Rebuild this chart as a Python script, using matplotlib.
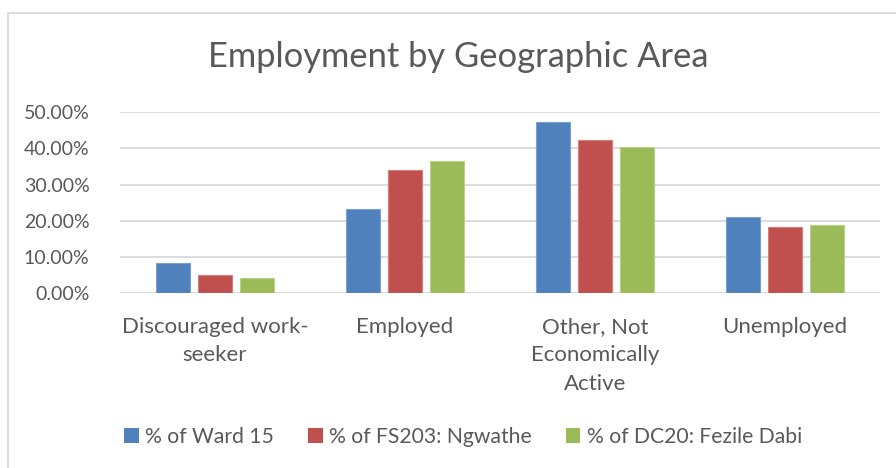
import numpy as np
import matplotlib
matplotlib.use("Agg")
from matplotlib import pyplot as plt
from matplotlib.ticker import FuncFormatter
from matplotlib.lines import Line2D
from matplotlib.patches import Patch

# employment status shares for the three geographic levels
categories = ["Discouraged work-\nseeker", "Employed",
              "Other, Not\nEconomically\nActive", "Unemployed"]
ward_15 = [0.083, 0.232, 0.472, 0.211]
fs203_ngwathe = [0.051, 0.341, 0.423, 0.184]
dc20_fezile_dabi = [0.041, 0.366, 0.403, 0.187]
series_names = ["% of Ward 15", "% of FS203: Ngwathe", "% of DC20: Fezile Dabi"]
y_ticks = [0.0, 0.1, 0.2, 0.3, 0.4, 0.5]

colors = ["#4F81BD", "#C0504D", "#9BBB59"]
edges = ["#7BA0D0", "#D77E7B", "#B8D088"]
text_color = "#595959"

plt.rcParams["font.family"] = ["Lato", "DejaVu Sans"]

fig = plt.figure(figsize=(8.96, 4.68), dpi=100)
ax = fig.add_axes([120 / 896, 175 / 468, 760 / 896, 180.7 / 468])

x = np.arange(len(categories))
width = 0.174
step = 0.221
for i, vals in enumerate([ward_15, fs203_ngwathe, dc20_fezile_dabi]):
    ax.bar(x + (i - 1) * step, vals, width, color=colors[i],
           edgecolor=edges[i], linewidth=0.8, zorder=3)

ax.set_xlim(-0.5, len(categories) - 0.5)
ax.set_ylim(0, 0.5)
ax.set_yticks(y_ticks)
ax.yaxis.set_major_formatter(FuncFormatter(lambda v, p: "%.2f%%" % (v * 100)))
ax.grid(axis="y", color="#D9D9D9", linewidth=1.3, zorder=0)
for s in ax.spines.values():
    s.set_visible(False)
ax.tick_params(axis="y", length=0, pad=22, labelsize=14, labelcolor=text_color)
ax.set_xticks(x)
ax.set_xticklabels(categories, linespacing=1.55)
ax.tick_params(axis="x", length=0, pad=17, labelsize=16, labelcolor=text_color)

fig.text(458 / 896, 1 - 57 / 468, "Employment by Geographic Area",
         ha="center", va="center", fontsize=24.8, color=text_color)

handles = [Patch(facecolor=c) for c in colors]
fig.legend(handles, series_names, loc="center", bbox_to_anchor=(463 / 896, 1 - 437 / 468),
           ncol=3, frameon=False, fontsize=15.2, labelcolor=text_color,
           handlelength=0.7, handleheight=0.7, handletextpad=0.3, columnspacing=1.6)

# chart frame (top and left edges)
fig.add_artist(Line2D([8 / 896, 8 / 896], [0, 1 - 13 / 468], color="#D9D9D9", linewidth=1.3))
fig.add_artist(Line2D([8 / 896, 1], [1 - 13 / 468, 1 - 13 / 468], color="#D9D9D9", linewidth=1.3))

fig.savefig("out.png", dpi=100)
